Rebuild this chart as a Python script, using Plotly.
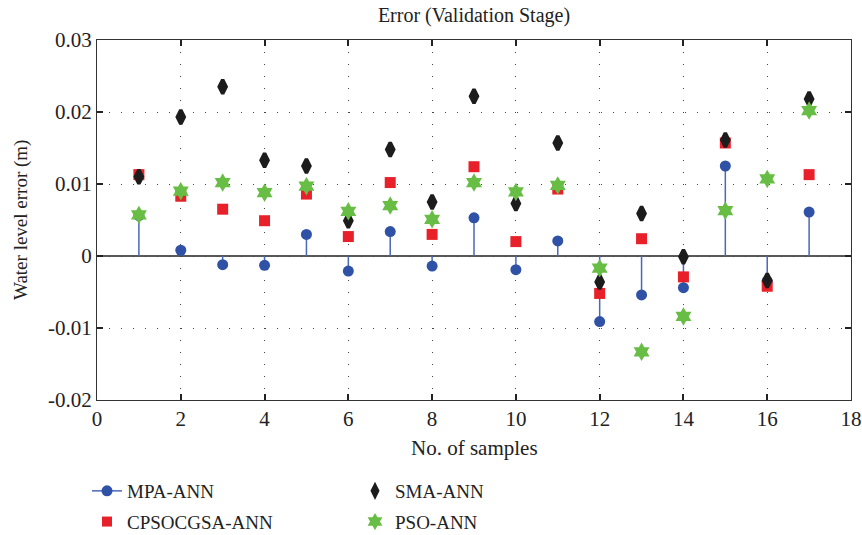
import plotly.graph_objects as go

# Validation-stage water level errors for each model (m)
samples = list(range(1, 18))
mpa_ann = [0.0056, 0.0008, -0.0012, -0.0013, 0.0030, -0.0021, 0.0034, -0.0014, 0.0053,
           -0.0019, 0.0021, -0.0091, -0.0054, -0.0044, 0.0125, -0.0035, 0.0061]
cpsocgsa_ann = [0.0113, 0.0083, 0.0065, 0.0049, 0.0086, 0.0027, 0.0102, 0.0030, 0.0124,
                0.0020, 0.0093, -0.0052, 0.0024, -0.0029, 0.0157, -0.0042, 0.0113]
sma_ann = [0.0110, 0.0193, 0.0235, 0.0133, 0.0125, 0.0049, 0.0148, 0.0075, 0.0222,
           0.0073, 0.0157, -0.0036, 0.0059, -0.0001, 0.0161, -0.0034, 0.0218]
pso_ann = [0.0057, 0.0090, 0.0102, 0.0088, 0.0097, 0.0062, 0.0070, 0.0051, 0.0102,
           0.0089, 0.0098, -0.0017, -0.0133, -0.0084, 0.0063, 0.0107, 0.0202]

x_ticks = list(range(0, 20, 2))
y_ticks = [-0.02, -0.01, 0, 0.01, 0.02, 0.03]
y_tick_text = ["-0.02", "-0.01", "0", "0.01", "0.02", "0.03"]

FONT = "Liberation Serif"
TEXT = "#222222"
BLUE_LINE = "#4a67b8"
BLUE = "#2f52a6"
RED = "#e8202a"
BLACK = "#1c1c1c"
GREEN = "#68bd45"

# plot area in pixels
W, H = 862, 535
ML, MR, MT, MB = 97, 11, 40, 135
PW, PH = W - ML - MR, H - MT - MB

# stem segments from the zero baseline to each MPA-ANN value
stem_x, stem_y = [], []
for xi, yi in zip(samples, mpa_ann):
    stem_x += [xi, xi, None]
    stem_y += [0, yi, None]

fig = go.Figure()

fig.add_trace(go.Scatter(
    x=stem_x, y=stem_y, mode="lines",
    line=dict(color=BLUE_LINE, width=1.5),
    showlegend=False, hoverinfo="skip",
))
fig.add_trace(go.Scatter(
    x=samples, y=mpa_ann, mode="markers", name="MPA-ANN",
    marker=dict(symbol="circle", size=11, color=BLUE),
    showlegend=False,
))
fig.add_trace(go.Scatter(
    x=samples, y=cpsocgsa_ann, mode="markers", name="CPSOCGSA-ANN",
    marker=dict(symbol="square", size=11, color=RED),
    showlegend=False,
))
fig.add_trace(go.Scatter(
    x=samples, y=sma_ann, mode="markers", name="SMA-ANN",
    marker=dict(symbol="diamond-tall", size=10, color=BLACK,
                line=dict(color=BLACK, width=3.5)),
    showlegend=False,
))
fig.add_trace(go.Scatter(
    x=samples, y=pso_ann, mode="markers", name="PSO-ANN",
    marker=dict(symbol="hexagram", size=14, color=GREEN),
    showlegend=False,
))

# legend entries (two columns)
legend_items = [
    ("MPA-ANN", "legend", "lines+markers", dict(symbol="circle", size=11, color=BLUE)),
    ("CPSOCGSA-ANN", "legend", "markers", dict(symbol="square", size=10, color=RED)),
    ("SMA-ANN", "legend2", "markers", dict(symbol="diamond-tall", size=9, color=BLACK,
                                          line=dict(color=BLACK, width=2.5))),
    ("PSO-ANN", "legend2", "markers", dict(symbol="hexagram", size=13, color=GREEN)),
]
for name, leg, mode, mk in legend_items:
    fig.add_trace(go.Scatter(
        x=[None], y=[None], mode=mode, name=name, legend=leg, legendgroup=name,
        line=dict(color=BLUE_LINE, width=1.5), marker=mk, showlegend=True,
    ))

axis_common = dict(
    showline=True, linecolor="#333333", linewidth=1.3, mirror="ticks",
    ticks="inside", ticklen=6, tickcolor=TEXT, tickwidth=1.5,
    showgrid=True, gridcolor="#444444", griddash="1px,11px", gridwidth=1,
    zeroline=False, automargin=False,
    tickfont=dict(family=FONT, size=21, color=TEXT),
)

fig.update_xaxes(range=[0, 18], tickvals=x_ticks, **axis_common)
fig.update_yaxes(range=[-0.02, 0.03], tickvals=y_ticks, ticktext=y_tick_text, **axis_common)

# solid zero baseline
fig.add_shape(type="line", xref="paper", x0=0, x1=1, yref="y", y0=0, y1=0,
              line=dict(color=TEXT, width=1.3), layer="below")

# axis titles
fig.add_annotation(text="No. of samples", xref="paper", yref="paper",
                   x=0.5, y=-(448 - (MT + PH)) / PH, xanchor="center", yanchor="middle",
                   showarrow=False, font=dict(family=FONT, size=21, color=TEXT))
fig.add_annotation(text="Water level error (m)", xref="paper", yref="paper",
                   x=-(ML - 21) / PW, y=0.5, xanchor="center", yanchor="middle",
                   textangle=-90, showarrow=False,
                   font=dict(family=FONT, size=19, color=TEXT))

legend_common = dict(
    orientation="v", xref="container", yref="container",
    xanchor="left", yanchor="top", y=1 - 472 / H,
    font=dict(family=FONT, size=19, color=TEXT),
    tracegroupgap=3, itemwidth=30, bgcolor="rgba(0,0,0,0)",
)

fig.update_layout(
    width=W, height=H,
    margin=dict(l=ML, r=MR, t=MT, b=MB, autoexpand=False),
    paper_bgcolor="white", plot_bgcolor="white",
    title=dict(text="Error (Validation Stage)", x=0.5, xref="paper", xanchor="center",
               y=1 - 15 / H, yanchor="middle",
               font=dict(family=FONT, size=20, color=TEXT)),
    font=dict(family=FONT, color=TEXT),
    showlegend=True,
    legend=dict(x=87 / W, **legend_common),
    legend2=dict(x=355 / W, **legend_common),
)

fig.write_html("out.html")
